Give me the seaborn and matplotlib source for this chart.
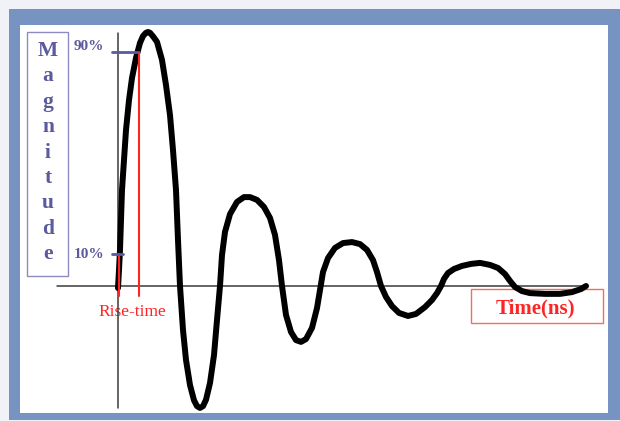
import matplotlib.pyplot as plt
import seaborn as sns
from matplotlib.patches import Rectangle

# -----------------------------
# Data
# -----------------------------
time_ns = [0.00, 0.02, 0.04, 0.06, 0.08, 0.12, 0.16, 0.22, 0.28, 0.36,
           0.44, 0.50, 0.56, 0.60, 0.64, 0.70, 0.78, 0.88, 0.96, 1.04, 1.10, 1.16,
           1.20, 1.24, 1.30, 1.36, 1.44, 1.52, 1.58, 1.64, 1.70, 1.76, 1.84, 1.92,
           1.98, 2.04, 2.08, 2.14, 2.24, 2.38, 2.52, 2.64, 2.78, 2.92,
           3.04, 3.14, 3.22, 3.28, 3.36, 3.46, 3.56, 3.66, 3.76, 3.88,
           3.98, 4.04, 4.10, 4.20, 4.34, 4.50, 4.68, 4.84, 4.98, 5.10,
           5.18, 5.26, 5.36, 5.48, 5.62, 5.80, 5.96, 6.14, 6.28, 6.38,
           6.46, 6.52, 6.60, 6.72, 6.88, 7.06, 7.24, 7.44, 7.60, 7.74,
           7.84, 7.94, 8.08, 8.24, 8.54, 8.84, 9.08, 9.26, 9.36]
magnitude = [-0.8, 6.3, 14.2, 26.0, 37.8, 49.6, 61.4, 73.2, 81.9, 89.8,
             95.7, 98.4, 99.7, 100.0, 99.7, 98.3, 96.1, 89.0, 79.1, 67.3, 53.5, 37.8,
             18.1, 0.0, -17.3, -29.1, -39.0, -45.0, -47.3, -48.0, -47.3, -44.8, -38.2, -27.2,
             -13.4, 0.0, 12.2, 21.3, 28.3, 33.1, 35.0, 35.0, 33.9, 31.1,
             26.8, 20.1, 10.2, 0.0, -11.4, -18.1, -21.3, -22.0, -20.9, -16.5,
             -8.7, -1.6, 5.5, 11.0, 15.0, 16.9, 17.3, 16.5, 14.2, 10.2,
             5.5, 0.0, -4.3, -7.9, -10.6, -11.8, -11.0, -8.3, -5.5, -2.8,
             0.0, 2.8, 5.1, 6.7, 7.9, 8.7, 9.1, 8.3, 7.1, 4.7,
             2.0, -0.4, -2.0, -2.8, -3.1, -3.1, -2.4, -1.2, 0.0]

level_labels = ['90%', '10%']
level_values = [92.1, 12.6]
rise_times = [0.01, 0.41]          # where the curve crosses 10% and 90%
axis_time = [-1.22, 9.40]
axis_mag = [-48.0, 99.6]

# -----------------------------
# Style
# -----------------------------
sns.set_style("white")
plt.rcParams['font.family'] = ['Liberation Serif', 'DejaVu Serif']

BLUE = '#7793c2'
PURPLE = '#5a5a9c'
RED = '#ff2424'


def px(x, y):
    # figure fraction from picture pixels (layout only)
    return x / 620, 1 - y / 421


fig = plt.figure(figsize=(6.2, 4.21), dpi=100)
fig.patch.set_facecolor('#f0f2f8')

# slide frame (behind the axes)
fig.add_artist(Rectangle(px(9, 420), 611 / 620, 411 / 421, zorder=-10,
                         transform=fig.transFigure, facecolor=BLUE, edgecolor='none'))
fig.add_artist(Rectangle(px(20, 413), 588 / 620, 388 / 421, zorder=-9,
                         transform=fig.transFigure, facecolor='white', edgecolor='none'))

ax = fig.add_axes([0, 0, 1, 1])
ax.set_zorder(5)
ax.set_facecolor('none')
ax.axis('off')
ax.set_xlim(-2.36, 10.04)
ax.set_ylim(-53.15, 112.6)

# axes drawn by hand
ax.plot([0, 0], axis_mag, color='#3a3a3a', linewidth=1.1, zorder=1)
ax.plot(axis_time, [0, 0], color='#3a3a3a', linewidth=1.1, zorder=1)

# the damped oscillation
sns.lineplot(x=time_ns, y=magnitude, sort=False, estimator=None, ax=ax,
             color='black', linewidth=4.3, solid_joinstyle='round',
             solid_capstyle='round', zorder=2)

# rise-time markers
for t, level in zip(rise_times, level_values[::-1]):
    ax.plot([t, t], [level, -3.9], color=RED, linewidth=1.5, zorder=3)
ax.plot([-0.12, rise_times[1] - 0.03], [level_values[0]] * 2, color=PURPLE, linewidth=2, zorder=3)
ax.plot([-0.12, 0.10], [level_values[1]] * 2, color=PURPLE, linewidth=2, zorder=3)

# level labels
for lab, yy in zip(level_labels, [47, 254]):
    fig.text(*px(104, yy), lab, ha='right', va='center', fontsize=11,
             fontweight='bold', color=PURPLE)

# "Magnitude" written downwards in a box
fig.add_artist(Rectangle(px(27, 276), 41 / 620, 244 / 421, transform=fig.transFigure,
                         facecolor='none', edgecolor='#8c8cc0', linewidth=1))
for i, ch in enumerate('Magnitude'):
    fig.text(*px(48, 56 + 25.4 * i), ch, ha='center', va='baseline', fontsize=15.5,
             fontweight='bold', color=PURPLE)

fig.text(*px(132, 316), 'Rise-time', ha='center', va='baseline', fontsize=12.5, color=RED)

fig.add_artist(Rectangle(px(471, 323), 132 / 620, 34 / 421, transform=fig.transFigure,
                         facecolor='none', edgecolor='#f07060', linewidth=1))
fig.text(*px(535, 313), 'Time(ns)', ha='center', va='baseline', fontsize=15,
         fontweight='bold', color=RED)

fig.savefig('out.png', dpi=100, facecolor=fig.get_facecolor())
